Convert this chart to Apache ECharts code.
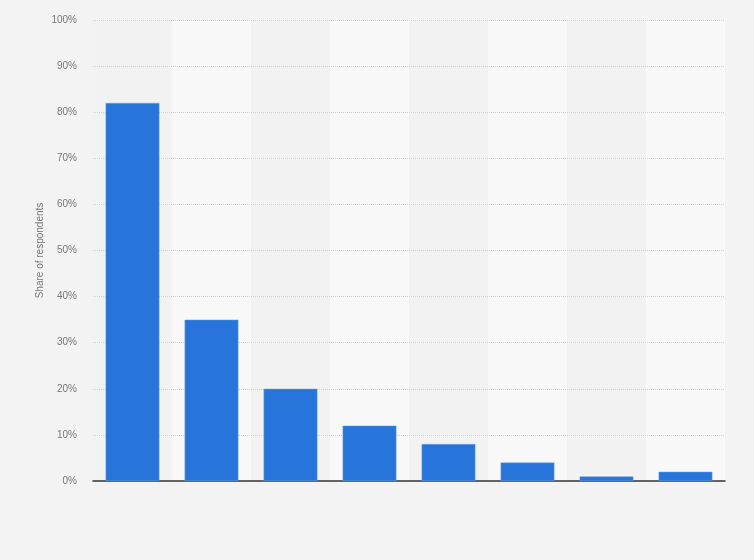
<!DOCTYPE html>
<html>
<head>
<meta charset="utf-8">
<script src="https://cdn.jsdelivr.net/npm/echarts@6/dist/echarts.min.js"></script>
<style>
  html, body { margin: 0; padding: 0; background: #f3f3f3; }
  #container { width: 754px; height: 560px; }
</style>
</head>
<body>
<div id="container"></div>
<script>
// chart data (x labels are not shown in the picture)
var categories = ['1', '2', '3', '4', '5', '6', '7', '8'];
var shares = [82, 35, 20, 12, 8, 4, 1, 2];
var yTicks = [0, 10, 20, 30, 40, 50, 60, 70, 80, 90, 100];

var myChart = echarts.init(document.getElementById('container'));

var option = {
    backgroundColor: '#f3f3f3',
    animation: false,
    grid: {
        left: 93,
        right: 29,
        top: 20,
        bottom: 79
    },
    xAxis: {
        type: 'category',
        data: categories,
        z: 0,
        axisLine: { lineStyle: { color: '#333', width: 1.5 } },
        axisTick: { show: false },
        axisLabel: { show: false },
        splitArea: {
            show: true,
            areaStyle: { color: ['#f2f2f2', '#f8f8f8'] }
        }
    },
    yAxis: {
        type: 'value',
        z: 1,
        min: yTicks[0],
        max: yTicks[yTicks.length - 1],
        interval: 10,
        name: 'Share of respondents',
        nameLocation: 'middle',
        nameGap: 48,
        nameMoveOverlap: false,
        nameTextStyle: { color: '#777', fontSize: 10, fontFamily: 'Liberation Sans' },
        axisLine: { show: false },
        axisTick: { show: false },
        axisLabel: {
            color: '#777',
            fontSize: 10,
            fontFamily: 'Liberation Sans',
            margin: 16,
            formatter: '{value}%'
        },
        splitLine: {
            showMinLine: false,
            lineStyle: { color: '#d2d2d2', type: [1, 1], width: 1 }
        }
    },
    series: [{
        type: 'bar',
        data: shares,
        barWidth: '68%',
        z: 3,
        itemStyle: {
            color: '#2775db',
            borderColor: '#6a9fe6',
            borderWidth: 0.5
        }
    }]
};

myChart.setOption(option);
</script>
</body>
</html>
